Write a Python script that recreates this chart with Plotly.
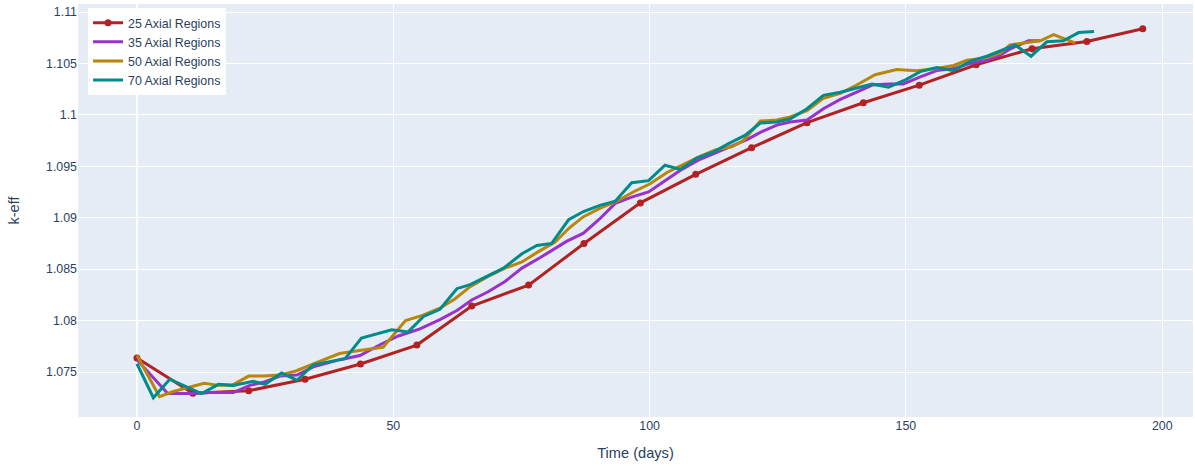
import plotly.graph_objects as go

# 25 axial regions
t25 = [0, 10.9, 21.8, 32.8, 43.6, 54.6, 65.3, 76.4, 87.2, 98.2, 109.0, 119.9, 130.7, 141.7, 152.6, 163.7, 174.6, 185.3, 196.2]
k25 = [1.07636, 1.07293, 1.07318, 1.07429, 1.07578, 1.07762, 1.08141, 1.08345, 1.08749, 1.09144, 1.09422, 1.09681, 1.09924, 1.10118, 1.10289, 1.10487, 1.10643, 1.10714, 1.10837]

# 35 axial regions
t35 = [0, 6.0, 11.0, 14.2, 18.8, 22.0, 24.6, 27.9, 31.2, 34.4, 39.6, 43.5, 47.6, 51.0, 55.2, 59.1, 62.5, 65.3, 68.5, 71.8, 75.1, 78.6, 83.8, 87.1, 90.3, 93.3, 96.5, 99.8, 103.0, 106.3, 109.5, 112.8, 116.0, 119.0, 121.6, 124.8, 127.4, 130.7, 133.9, 137.2, 140.4, 143.4, 146.6, 149.5, 152.8, 156.0, 159.3, 162.5, 165.8, 168.4, 170.3, 173.9, 176.2]
k35 = [1.0762, 1.0729, 1.0729, 1.0730, 1.0730, 1.0737, 1.0740, 1.0746, 1.0747, 1.0755, 1.0762, 1.0766, 1.0777, 1.0785, 1.0792, 1.0801, 1.0810, 1.0820, 1.0828, 1.0838, 1.0851, 1.0861, 1.0877, 1.0885, 1.0899, 1.0914, 1.0920, 1.0925, 1.0936, 1.0947, 1.0956, 1.0963, 1.0969, 1.0976, 1.0983, 1.0990, 1.0993, 1.0995, 1.1006, 1.1015, 1.1022, 1.1029, 1.1030, 1.1030, 1.1037, 1.1043, 1.1045, 1.1050, 1.1053, 1.1058, 1.1064, 1.1072, 1.1072]

# 50 axial regions
t50 = [0, 4.4, 7.1, 10.3, 13.1, 16.0, 18.5, 21.8, 24.8, 27.9, 31.0, 34.4, 39.5, 43.4, 48.0, 52.4, 55.7, 59.1, 62.0, 65.0, 68.5, 71.8, 75.1, 78.3, 81.5, 84.3, 87.1, 90.3, 93.6, 96.8, 100.1, 103.4, 106.6, 109.5, 112.8, 116.0, 118.3, 121.6, 124.8, 127.4, 130.7, 133.9, 137.2, 140.4, 144.0, 148.2, 152.1, 156.0, 159.3, 161.9, 165.1, 168.4, 170.3, 173.6, 176.2, 178.8, 181.1, 183.0]
k50 = [1.0766, 1.0726, 1.0731, 1.0735, 1.0739, 1.0737, 1.0737, 1.0746, 1.0746, 1.0747, 1.0751, 1.0758, 1.0768, 1.0771, 1.0774, 1.0800, 1.0805, 1.0812, 1.0821, 1.0833, 1.0843, 1.0851, 1.0857, 1.0867, 1.0876, 1.0890, 1.0901, 1.0909, 1.0916, 1.0925, 1.0933, 1.0944, 1.0952, 1.0959, 1.0966, 1.0969, 1.0975, 1.0994, 1.0995, 1.0998, 1.1004, 1.1016, 1.1021, 1.1029, 1.1039, 1.1044, 1.1043, 1.1045, 1.1048, 1.1053, 1.1055, 1.1060, 1.1068, 1.1070, 1.1072, 1.1078, 1.1074, 1.1070]

# 70 axial regions
t70 = [0, 3.2, 6.4, 12.6, 15.9, 18.8, 22.7, 25.0, 28.2, 31.2, 34.4, 40.6, 43.8, 49.7, 52.9, 55.9, 59.1, 62.4, 65.0, 71.5, 75.1, 78.0, 80.9, 82.5, 84.2, 87.1, 90.3, 93.3, 96.5, 99.8, 103.0, 106.0, 109.2, 112.5, 115.4, 118.6, 121.6, 124.8, 127.4, 130.7, 133.9, 137.2, 140.1, 143.4, 146.6, 149.9, 152.8, 156.0, 159.3, 162.5, 165.8, 168.4, 171.3, 174.4, 177.5, 180.7, 183.7, 186.7]
k70 = [1.0758, 1.0725, 1.0743, 1.0729, 1.0738, 1.0737, 1.0741, 1.0738, 1.0749, 1.0742, 1.0757, 1.0763, 1.0783, 1.0791, 1.0789, 1.0804, 1.0811, 1.0831, 1.0835, 1.0851, 1.0865, 1.0873, 1.0875, 1.0886, 1.0898, 1.0906, 1.0912, 1.0916, 1.0934, 1.0936, 1.0951, 1.0947, 1.0958, 1.0964, 1.0972, 1.0980, 1.0992, 1.0993, 1.0996, 1.1006, 1.1019, 1.1022, 1.1026, 1.1030, 1.1027, 1.1034, 1.1042, 1.1046, 1.1043, 1.1052, 1.1057, 1.1062, 1.1068, 1.1057, 1.1071, 1.1072, 1.1080, 1.1081]

fig = go.Figure()
fig.add_trace(go.Scatter(x=t25, y=k25, mode="lines+markers", name="25 Axial Regions",
                         line=dict(color="#B22222", width=3), marker=dict(size=7, color="#B22222")))
fig.add_trace(go.Scatter(x=t35, y=k35, mode="lines", name="35 Axial Regions",
                         line=dict(color="#9932CC", width=3)))
fig.add_trace(go.Scatter(x=t50, y=k50, mode="lines", name="50 Axial Regions",
                         line=dict(color="#B8860B", width=3)))
fig.add_trace(go.Scatter(x=t70, y=k70, mode="lines", name="70 Axial Regions",
                         line=dict(color="#008B8B", width=3)))

fig.update_layout(
    width=1195, height=467,
    template="plotly",
    font=dict(family="Arial, Liberation Sans, sans-serif", size=12.4),
    margin=dict(l=78, r=2, t=4, b=50),
    xaxis=dict(title=dict(text="Time (days)", font=dict(size=14.6)), range=[-11.5, 206.0], dtick=50),
    yaxis=dict(title=dict(text="k-eff", font=dict(size=14.6), standoff=22), range=[1.070625, 1.110778], dtick=0.005),
    legend=dict(x=0.009, y=0.99, xanchor="left", yanchor="top", bgcolor="white"),
)

fig.write_html("out.html")
